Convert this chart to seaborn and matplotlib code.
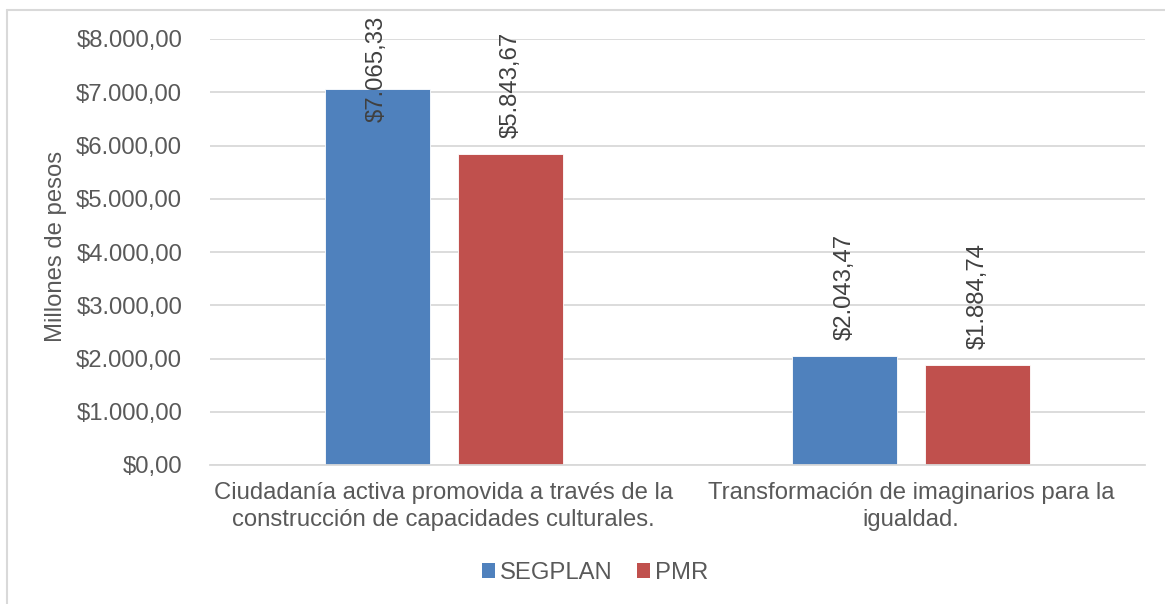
import matplotlib
matplotlib.use("Agg")
import matplotlib.pyplot as plt
import seaborn as sns
import pandas as pd
from matplotlib.lines import Line2D
from matplotlib.patches import Patch

categories = ["Ciudadanía activa promovida a través de la\nconstrucción de capacidades culturales.",
              "Transformación de imaginarios para la\nigualdad."]
series = ["SEGPLAN", "PMR"]
segplan = [7065.33, 2043.47]
pmr = [5843.67, 1884.74]
yticks = [0, 1000, 2000, 3000, 4000, 5000, 6000, 7000, 8000]

def fmt(v):
    s = f"{v:,.2f}"
    s = s.replace(",", "X").replace(".", ",").replace("X", ".")
    return "$" + s

df = pd.DataFrame({
    "cat": categories * 2,
    "serie": [series[0]] * 2 + [series[1]] * 2,
    "valor": segplan + pmr,
})

sns.set_theme(style="white")
plt.rcParams["font.family"] = ["Liberation Sans", "DejaVu Sans"]
TXT = "#595959"
FS = 17.2

fig = plt.figure(figsize=(11.65, 6.04), dpi=100)
ax = fig.add_axes([210/1165, 1 - 465/604, 935/1165, 426/604])

colors = {"SEGPLAN": "#4f81bd", "PMR": "#c0504d"}
sns.barplot(data=df, x="cat", y="valor", hue="serie", palette=colors, ax=ax,
            width=0.569, gap=0.21, dodge=True, legend=False, edgecolor="white", linewidth=0.6,
            saturation=1, err_kws={"linewidth": 0})

ax.set_ylim(0, 8000)
ax.set_xlim(-0.5, 1.5)
ax.set_yticks(yticks)
ax.set_yticklabels([fmt(v) for v in yticks], color=TXT, fontsize=FS)
ax.tick_params(axis="y", length=0, pad=20)
ax.tick_params(axis="x", length=0, pad=12)
ax.set_xticks([0, 1])
ax.set_xticklabels(categories, color=TXT, fontsize=FS, linespacing=1.3)
ax.set_xlabel("")
ax.set_ylabel("Millones de pesos", color=TXT, fontsize=FS)
ax.yaxis.set_label_coords(-0.153, 0.512)
ax.yaxis.grid(True, color="#d9d9d9", linewidth=1.3)
ax.set_axisbelow(True)
for s in ["top", "right", "left"]:
    ax.spines[s].set_visible(False)
ax.spines["bottom"].set_color("#d9d9d9")
ax.spines["bottom"].set_linewidth(1.3)

# data labels
px_per_unit = 426 / 8000
top_limit = 8000 + (39 - 16) / px_per_unit
for cont, vals in zip(ax.containers, [segplan, pmr]):
    for bar, v in zip(cont, vals):
        xc = bar.get_x() + bar.get_width() / 2
        label = fmt(v)
        est_len = 106 / px_per_unit
        if v + 300 + est_len > top_limit:
            ax.text(xc, top_limit, label, rotation=90, ha="center", va="top",
                    color="#404040", fontsize=FS, clip_on=False)
        else:
            ax.text(xc, v + 300, label, rotation=90, ha="center", va="bottom",
                    color="#404040", fontsize=FS, clip_on=False)

handles = [Patch(facecolor=colors[s], edgecolor="none") for s in series]
fig.legend(handles, series, loc="center", bbox_to_anchor=(595/1165, 1 - 573/604), ncol=2,
           frameon=False, fontsize=FS, handlelength=0.55, handleheight=0.55,
           handletextpad=0.2, columnspacing=1.0, labelcolor=TXT)

# chart border (left and top)
fig.add_artist(Line2D([7/1165, 7/1165], [0, 1 - 10/604], transform=fig.transFigure,
                      color="#d9d9d9", linewidth=1.5))
fig.add_artist(Line2D([7/1165, 1], [1 - 10/604, 1 - 10/604], transform=fig.transFigure,
                      color="#d9d9d9", linewidth=1.5))

fig.savefig("out.png", dpi=100)
